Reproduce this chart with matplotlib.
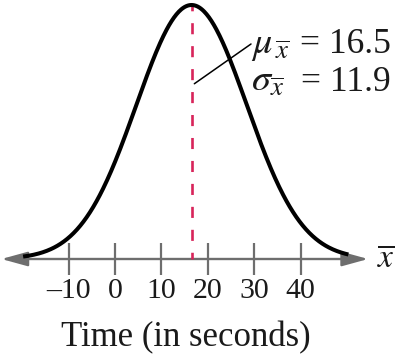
import numpy as np
import matplotlib
matplotlib.use("Agg")
import matplotlib.pyplot as plt

plt.rcParams['font.family'] = ['Liberation Serif', 'DejaVu Serif']
plt.rcParams['mathtext.fontset'] = 'stix'

# Data
mu = 16.5
sigma = 11.9
curve_range = [-19.8, 50.3]
tick_values = [-10, 0, 10, 20, 30, 40]
xlabel = "Time (in seconds)"
ann_symbols = [r"$\mu_{\,\overline{x}}$", r"$\sigma_{\overline{x}}$"]
ann_values = ["16.5", "11.9"]

W, H = 396, 358
fig = plt.figure(figsize=(W / 100, H / 100), dpi=100)
ax = fig.add_axes([0, 0, 1, 1])

px_per_unit = 4.64
x0_px = 115
peak = 1 / (sigma * np.sqrt(2 * np.pi))
axis_px = 259
peak_px = 5
py_per_unit = (axis_px - peak_px) / peak

ax.set_xlim(-x0_px / px_per_unit, (W - x0_px) / px_per_unit)
ax.set_ylim(-(H - axis_px) / py_per_unit, axis_px / py_per_unit)

x = np.linspace(curve_range[0], curve_range[1], 400)
y = np.exp(-0.5 * ((x - mu) / sigma) ** 2) / (sigma * np.sqrt(2 * np.pi))
ax.plot(x, y, color='black', lw=2.9, solid_capstyle='butt', zorder=4)

# dashed mean line
ax.plot([mu, mu], [peak, 0], color='#d8245a', lw=1.9,
        linestyle=(2.0, (4.2, 4.5)), zorder=3)

# axis with arrows
for s in ax.spines.values():
    s.set_visible(False)
ax.spines['bottom'].set_position(('data', 0))
ax.set_yticks([])
ax.set_xticks(tick_values)
ax.set_xticklabels([f"{v}".replace('-', '\u2013') for v in tick_values])
ax.tick_params(axis='x', direction='inout', length=23, width=1.6,
               color='#6e6e6e', labelsize=21.5, pad=2.5, labelcolor='#1a1a1a')
xl = ax.get_xlim()
ax.annotate('', xy=(xl[0] + 0.3, 0), xytext=(xl[1] - 6.0, 0),
            arrowprops=dict(arrowstyle='<|-|>,head_length=0.8,head_width=0.22',
                            mutation_scale=20, color='#6e6e6e', lw=1.7,
                            shrinkA=0, shrinkB=0), zorder=1)
ax.text(xl[1] - 4.0, 0, r"$\overline{x}$", fontsize=24, ha='left', va='center',
        color='#1a1a1a')

# annotations
for i, (sym, val) in enumerate(zip(ann_symbols, ann_values)):
    ybase = 1 - (53 + 38 * i) / H
    ax.text(251 / W, ybase, sym, transform=ax.transAxes, fontsize=27.5,
            ha='left', va='baseline', color='#1a1a1a')
    ax.text(391 / W, ybase, "= " + val, transform=ax.transAxes, fontsize=25.5,
            ha='right', va='baseline', color='#1a1a1a')
ax.annotate('', xy=(mu + 0.6, peak * 0.69), xytext=(251 / W, 1 - 44 / H),
            textcoords='axes fraction',
            arrowprops=dict(arrowstyle='-', color='black', lw=1.1,
                            shrinkA=0, shrinkB=0))

ax.text(186 / W, 1 - 346 / H, xlabel, transform=ax.transAxes, fontsize=25,
        ha='center', va='baseline', color='#1a1a1a')

fig.savefig('out.png', dpi=100)
